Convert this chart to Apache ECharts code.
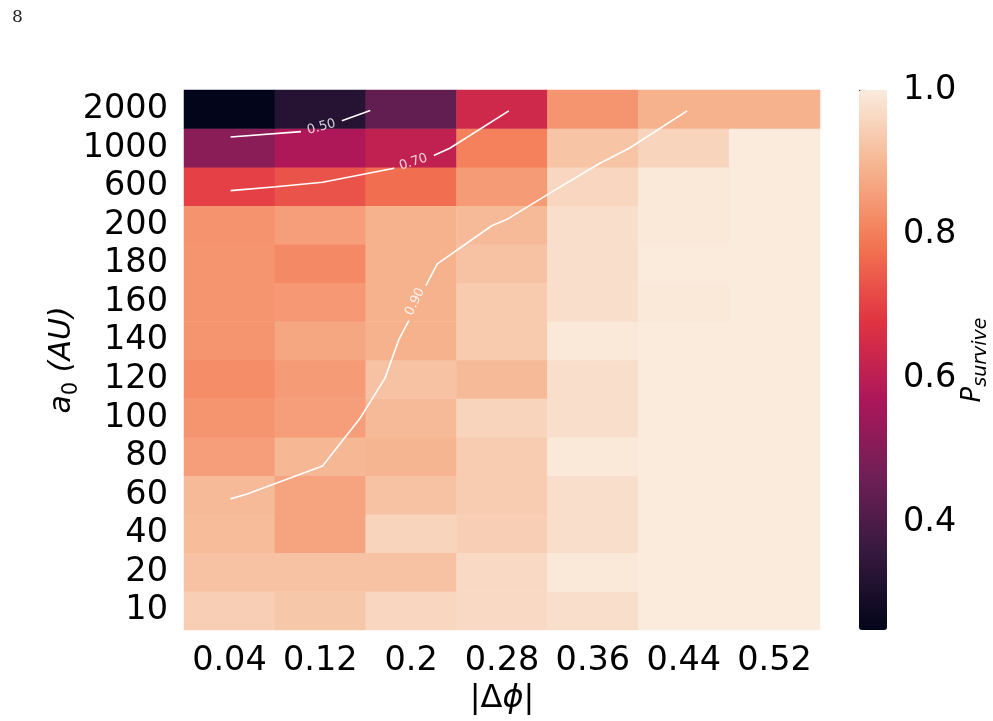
<!DOCTYPE html>
<html>
<head>
<meta charset="utf-8">
<title>P survive heatmap</title>
<script src="https://cdn.jsdelivr.net/npm/echarts@6/dist/echarts.min.js"></script>
<style>
  html, body { margin: 0; padding: 0; background: #fff; }
  #chart { width: 993px; height: 721px; }
</style>
</head>
<body>
<div id="chart"></div>
<script>
// |dphi| columns
const dphiLabels = ['0.04', '0.12', '0.2', '0.28', '0.36', '0.44', '0.52']
// a0 rows, bottom to top
const a0Labels = ['10', '20', '40', '60', '80', '100', '120', '140', '160', '180', '200', '600', '1000', '2000']

// P_survive for each a0 row, one value per |dphi| column
const p10 = [0.945, 0.93, 0.96, 0.965, 0.975, 1.0, 1.0]
const p20 = [0.92, 0.92, 0.92, 0.965, 0.995, 1.0, 1.0]
const p40 = [0.91, 0.865, 0.955, 0.945, 0.975, 1.0, 1.0]
const p60 = [0.905, 0.865, 0.92, 0.94, 0.975, 1.0, 1.0]
const p80 = [0.855, 0.9, 0.895, 0.94, 0.995, 1.0, 1.0]
const p100 = [0.84, 0.855, 0.905, 0.955, 0.975, 1.0, 1.0]
const p120 = [0.825, 0.85, 0.92, 0.905, 0.975, 1.0, 1.0]
const p140 = [0.84, 0.87, 0.89, 0.935, 0.995, 1.0, 1.0]
const p160 = [0.84, 0.845, 0.89, 0.935, 0.975, 0.995, 1.0]
const p180 = [0.84, 0.82, 0.89, 0.92, 0.975, 1.0, 1.0]
const p200 = [0.835, 0.855, 0.89, 0.905, 0.975, 0.995, 1.0]
const p600 = [0.70, 0.73, 0.775, 0.85, 0.96, 0.995, 1.0]
const p1000 = [0.51, 0.575, 0.61, 0.805, 0.925, 0.955, 1.0]
const p2000 = [0.25, 0.325, 0.44, 0.64, 0.84, 0.89, 0.89]
const pRows = [p10, p20, p40, p60, p80, p100, p120, p140, p160, p180, p200, p600, p1000, p2000]

// colour scale
const pMin = 0.25
const pMax = 1.0
const cbarTicks = [0.4, 0.6, 0.8, 1.0]

// contour lines as [|dphi|, row] (row 0 = 10 AU ... 13 = 2000 AU), null = break for the label
const contour50 = [[0.041, 12.28], [0.103, 12.42], null, [0.139, 12.70], [0.164, 12.97]]
const contour70 = [[0.041, 10.89], [0.081, 10.99], [0.122, 11.11], [0.185, 11.47], null,
  [0.220, 11.80], [0.234, 11.99], [0.286, 12.96]]
const contour90 = [[0.443, 12.96], [0.392, 11.99], [0.365, 11.58], [0.324, 10.86], [0.284, 10.14],
  [0.271, 9.98], [0.223, 8.99], [0.213, 8.43], null, [0.198, 7.52], [0.189, 7.02], [0.177, 6.03],
  [0.155, 4.99], [0.122, 3.75], [0.055, 3.02], [0.041, 2.90]]
const contourLevels = ['0.50', '0.70', '0.90']
const contourLabelAt = [[0.121, 12.54], [0.202, 11.63], [0.2035, 8.01]]
const contourLabelAngle = [15, 18, 64]

const font = 'DejaVu Sans'
const rocket = ['#03051a', '#35193e', '#701f57', '#ad1759', '#e13342', '#f37651', '#f6b48f', '#faebdd']

const splitSegments = (pts) => {
  const segs = [[]]
  pts.forEach(p => { if (p) segs[segs.length - 1].push(p); else segs.push([]) })
  return segs
}

const buildOption = () => {
  const cells = []
  pRows.forEach((row, i) => row.forEach((v, j) => cells.push([j, i, v])))

  const contourSeries = []
  ;[contour50, contour70, contour90].forEach(c => {
    splitSegments(c).forEach(seg => {
      contourSeries.push({
        type: 'line',
        xAxisIndex: 1,
        yAxisIndex: 1,
        data: seg,
        symbol: 'none',
        silent: true,
        z: 3,
        lineStyle: { color: '#ffffff', width: 1.6 }
      })
    })
  })

  const labelSeries = contourLevels.map((lvl, k) => ({
    type: 'scatter',
    xAxisIndex: 1,
    yAxisIndex: 1,
    symbolSize: 1,
    silent: true,
    z: 4,
    itemStyle: { color: 'rgba(0,0,0,0)' },
    data: [contourLabelAt[k]],
    label: {
      show: true,
      position: 'inside',
      formatter: lvl,
      rotate: contourLabelAngle[k],
      color: '#ffffff',
      fontFamily: font,
      fontSize: 13
    }
  }))

  return {
    backgroundColor: '#ffffff',
    animation: false,
    title: {
      text: '8',
      left: 7,
      top: 4,
      textStyle: { fontFamily: 'DejaVu Serif', fontWeight: 'normal', fontSize: 17, color: '#222' }
    },
    grid: [
      { left: 184, right: 173, top: 90, bottom: 91 },
      { left: 859, width: 28, top: 90, height: 540 }
    ],
    xAxis: [
      {
        type: 'category',
        gridIndex: 0,
        data: dphiLabels,
        axisLine: { show: false },
        axisTick: { alignWithLabel: true, interval: 0, length: 8, lineStyle: { color: '#333', width: 1.2 } },
        axisLabel: { interval: 0, color: '#000', fontFamily: font, fontSize: 33.5, margin: 14 },
        name: '{n||Δ}{it|ϕ}{n||}',
        nameLocation: 'middle',
        nameGap: 47,
        nameTextStyle: {
          rich: {
            n: { fontFamily: font, fontSize: 32, color: '#000' },
            it: { fontFamily: font, fontSize: 32, fontStyle: 'italic', color: '#000' }
          }
        }
      },
      { type: 'value', gridIndex: 0, min: 0, max: 0.56, show: false },
      { type: 'value', gridIndex: 1, show: false }
    ],
    yAxis: [
      {
        type: 'category',
        gridIndex: 0,
        data: a0Labels,
        axisLine: { show: false },
        axisTick: { alignWithLabel: true, interval: 0, length: 8, lineStyle: { color: '#333', width: 1.2 } },
        axisLabel: { interval: 0, color: '#000', fontFamily: font, fontSize: 33.5, margin: 16, padding: [5, 0, 0, 0] },
        name: '{it|a}{sub|0}{it| (AU)}',
        nameLocation: 'middle',
        nameRotate: 90,
        nameGap: 102,
        nameMoveOverlap: false,
        nameTextStyle: {
          rich: {
            it: { fontFamily: font, fontSize: 30, fontStyle: 'italic', color: '#000', lineHeight: 36, verticalAlign: 'bottom', padding: [0, 0, 5, 0] },
            sub: { fontFamily: font, fontSize: 21, color: '#000', lineHeight: 23, verticalAlign: 'bottom' }
          }
        }
      },
      { type: 'value', gridIndex: 0, min: -0.5, max: 13.5, show: false },
      {
        type: 'value',
        gridIndex: 1,
        min: pMin,
        max: pMax,
        position: 'right',
        axisLine: { show: false },
        splitLine: { show: false },
        axisTick: { show: true, customValues: cbarTicks, length: 6, lineStyle: { color: '#333', width: 1.2 } },
        axisLabel: {
          customValues: cbarTicks,
          formatter: v => v.toFixed(1),
          color: '#000',
          fontFamily: font,
          fontSize: 33.5,
          margin: 16
        },
        name: '{it|P}{sub|survive}',
        nameLocation: 'middle',
        nameRotate: 90,
        nameGap: 72,
        nameMoveOverlap: false,
        nameTextStyle: {
          rich: {
            it: { fontFamily: font, fontSize: 26, fontStyle: 'italic', color: '#000', lineHeight: 32, verticalAlign: 'bottom', padding: [0, 0, 5, 0] },
            sub: { fontFamily: font, fontSize: 19, fontStyle: 'italic', color: '#000', lineHeight: 22, verticalAlign: 'bottom' }
          }
        }
      }
    ],
    visualMap: {
      type: 'continuous',
      seriesIndex: 0,
      min: pMin,
      max: pMax,
      calculable: false,
      hoverLink: false,
      orient: 'vertical',
      left: 859,
      top: 90,
      padding: 0,
      itemWidth: 28,
      itemHeight: 540,
      text: null,
      showLabel: false,
      inRange: { color: rocket }
    },
    series: [
      {
        type: 'heatmap',
        xAxisIndex: 0,
        yAxisIndex: 0,
        data: cells,
        itemStyle: { borderWidth: 0 },
        emphasis: { disabled: true },
        progressive: 0
      },
      ...contourSeries,
      ...labelSeries
    ]
  }
}

const chart = echarts.init(document.getElementById('chart'))
chart.setOption(buildOption())
window.addEventListener('resize', () => chart.resize())
</script>
</body>
</html>
